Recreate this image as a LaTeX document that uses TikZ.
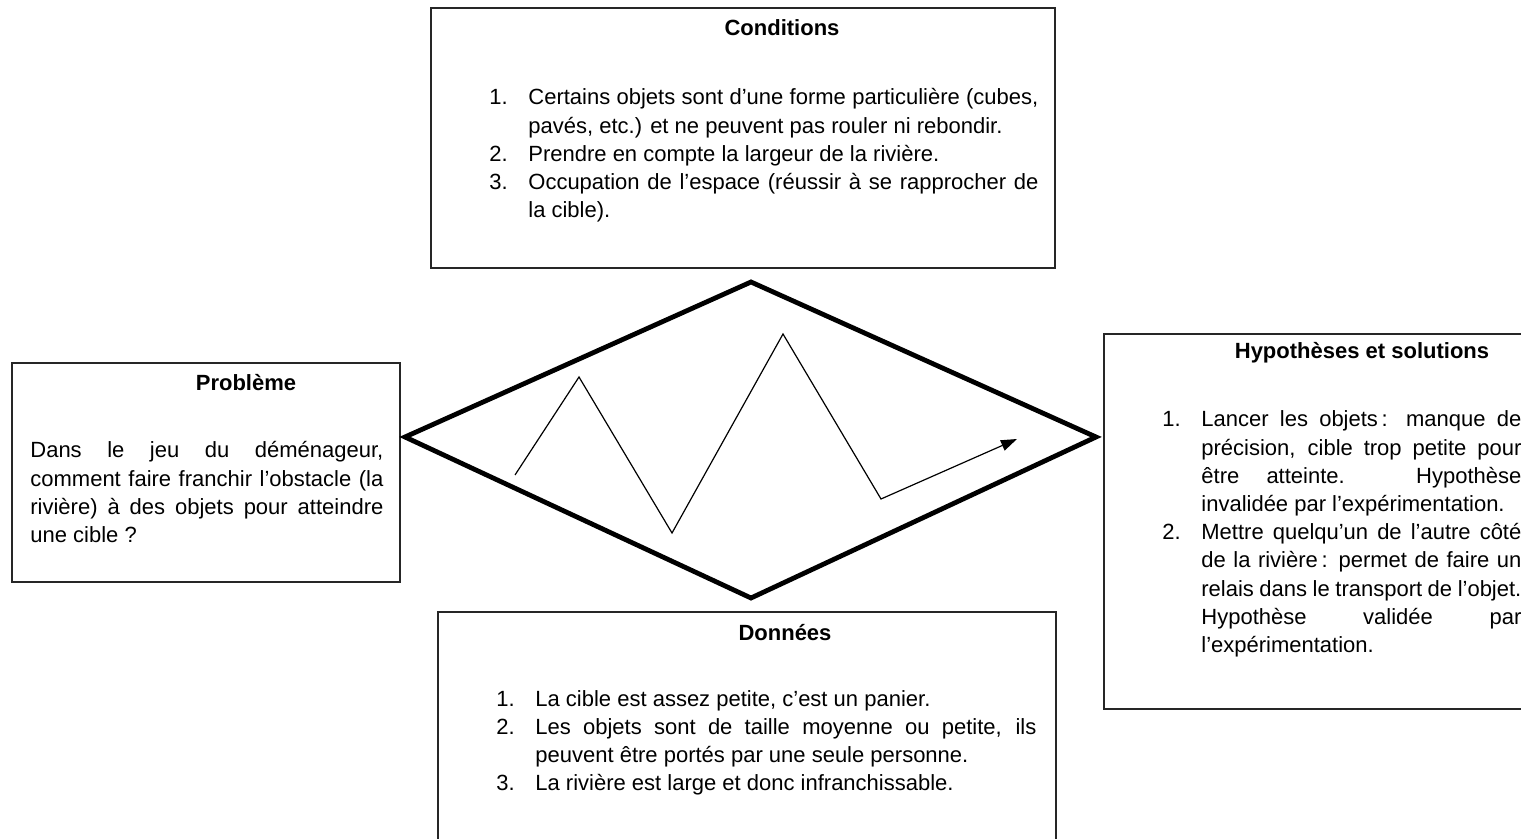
\documentclass[tikz,border=0pt]{standalone}
\usepackage{fontspec}
\setmainfont{Liberation Sans}
\usetikzlibrary{arrows.meta}
\tolerance=9999
\hbadness=10000
\hfuzz=4pt
\newcommand{\numero}[2]{\noindent\hangindent=19.5pt\hangafter=1\makebox[19.5pt][l]{#1}#2\par}

\begin{document}
\begin{tikzpicture}[x=0.5pt, y=-0.5pt,
    texte/.style={font=\fontsize{11}{14.1}\selectfont, inner sep=0pt, align=justify, anchor=base west},
    titre/.style={font=\fontsize{11}{14.1}\selectfont\bfseries, inner sep=0pt, anchor=base},
    cadre/.style={draw=black!85, line width=0.7pt},
    losange/.style={line width=2.4pt},
    trajet/.style={line width=0.6pt, -{Triangle[length=8pt,width=5.5pt]}}]
    \useasboundingbox (0,0) rectangle (1521,839);
    \clip (0,0) rectangle (1521,839);

    \draw[cadre] (431,8) rectangle (1055,268);
    \draw[cadre] (12,363) rectangle (400,582);
    \draw[cadre] (1104,334) rectangle (1530,709);
    \draw[cadre] (438,612) rectangle (1056,850);

    \node[titre] (conditions) at (782,36) {Conditions};
    \node[titre] (probleme) at (246,391) {Problème};
    \node[titre] (hypotheses) at (1362,359) {Hypothèses et solutions};
    \node[titre] (donnees) at (785,640) {Données};

    \node[texte, text width=274.5pt] (listeCond) at (489,105) {%
        \numero{1.}{Certains objets sont d’une forme particulière (cubes,\linebreak pavés, etc.) et ne peuvent pas rouler ni rebondir.}
        \numero{2.}{Prendre en compte la largeur de la rivière.}
        \numero{3.}{Occupation de l’espace (réussir à se rapprocher de\linebreak la cible).}};
    \node[texte, text width=176.5pt] (texteProb) at (30,458) {%
        Dans le jeu du déménageur,\linebreak comment faire franchir l’obstacle (la\linebreak rivière) à des objets pour atteindre\linebreak une cible~?\par};
    \node[texte, text width=179.5pt] (listeHyp) at (1162,427) {%
        \numero{1.}{Lancer les objets\,: manque de\linebreak précision, cible trop petite pour\linebreak être atteinte. Hypothèse\linebreak invalidée par l’expérimentation.}
        \numero{2.}{Mettre quelqu’un de l’autre côté\linebreak de la rivière\,: permet de faire un\linebreak relais dans le transport de l’objet.\linebreak Hypothèse validée par\linebreak l’expérimentation.}};
    \node[texte, text width=270pt] (listeDon) at (496,706) {%
        \numero{1.}{La cible est assez petite, c’est un panier.}
        \numero{2.}{Les objets sont de taille moyenne ou petite, ils\linebreak peuvent être portés par une seule personne.}
        \numero{3.}{La rivière est large et donc infranchissable.}};

    \draw[losange] (405,437) -- (751,282) -- (1096,437) -- (751,598) -- cycle;
    \draw[trajet] (515,475) -- (579,377) -- (672,533) -- (783,334) -- (881,499) -- (1017,439);
\end{tikzpicture}
\end{document}
